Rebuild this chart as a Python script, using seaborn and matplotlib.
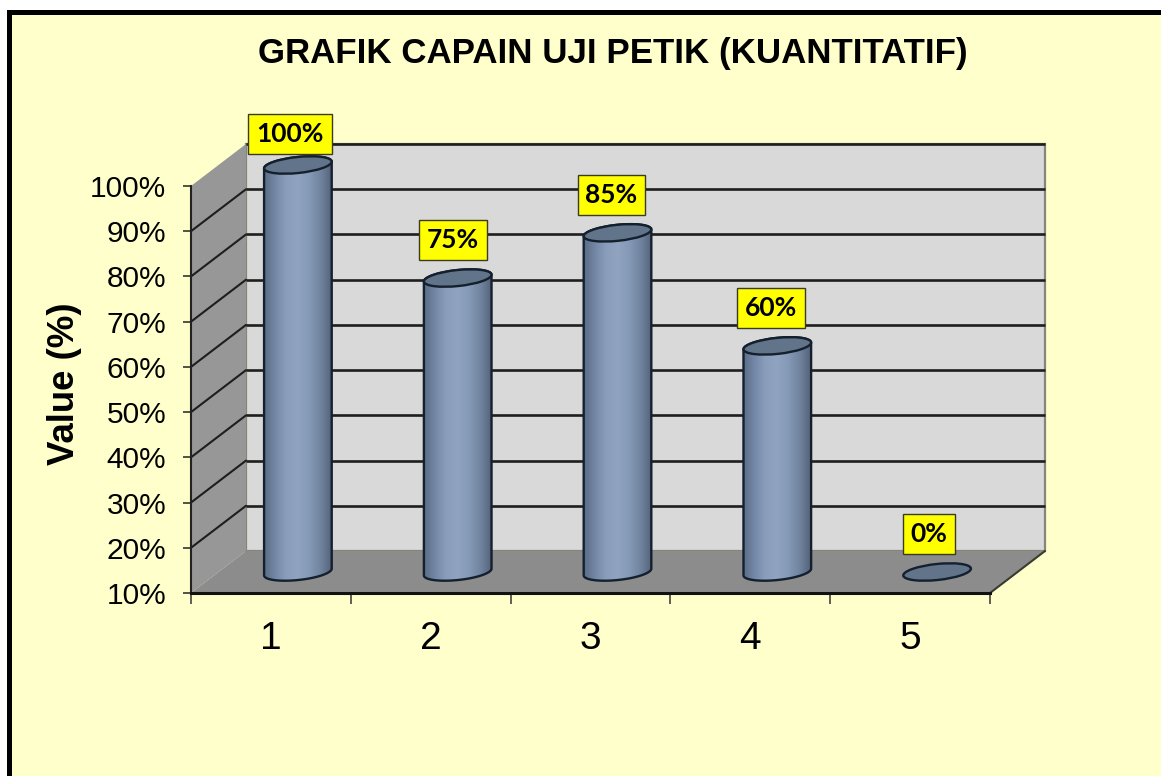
import numpy as np
import pandas as pd
import matplotlib
matplotlib.use("Agg")
import matplotlib.pyplot as plt
import seaborn as sns
from matplotlib.colors import LinearSegmentedColormap
from matplotlib.patches import Ellipse, Polygon, Rectangle
from matplotlib.transforms import IdentityTransform, Affine2D

categories = ["1", "2", "3", "4", "5"]
values = [100, 75, 85, 60, 0]
value_labels = ["100%", "75%", "85%", "60%", "0%"]
y_ticks = [10, 20, 30, 40, 50, 60, 70, 80, 90, 100]
y_tick_labels = ["10%", "20%", "30%", "40%", "50%", "60%", "70%", "80%", "90%", "100%"]
title = "GRAFIK CAPAIN UJI PETIK (KUANTITATIF)"
y_label = "Value (%)"

W, H = 1161, 776
BG = "#FFFFCC"
DX, DY = 55, 42          # depth of the 3D box, px
BAR_DX, BAR_DY = 27, 21  # bars stand mid-depth
ELL_W, ELL_H, ELL_ANG = 68, 16, 6
LABEL_DX = [-8, -5, -6, -6, -8]
LABEL_DY = [31, 38, 38, 38, 38]

sns.set_theme(style="white")
plt.rcParams["font.family"] = ["Liberation Sans", "DejaVu Sans"]
plt.rcParams["xtick.labelcolor"] = "black"
plt.rcParams["ytick.labelcolor"] = "black"

fig = plt.figure(figsize=(W / 100, H / 100), dpi=100, facecolor="white")
fig.patches.append(Rectangle((8.5, -10), W + 20, H + 10 - 11.5, transform=IdentityTransform(),
                             facecolor=BG, edgecolor="black", linewidth=5 * 0.72, figure=fig,
                             zorder=-5))

ax = fig.add_axes([191 / W, 1 - 593 / H, 799 / W, 407 / H])
ax.patch.set_visible(False)

df = pd.DataFrame({"cat": categories, "val": values})
sns.barplot(data=df, x="cat", y="val", ax=ax, color="#8296B2", width=68 / 159.8,
            saturation=1, errorbar=None, zorder=4)
ax.set_xlim(-0.5, 4.5)
ax.set_ylim(10, 100)
ax.set_autoscale_on(False)

px = IdentityTransform()
back = Affine2D().translate(DX, DY)
x0, y0 = ax.transData.transform((-0.5, 10))
x1, y1 = ax.transData.transform((4.5, 100))

# 3D box
ax.add_patch(Polygon([(x0 + DX, y0 + DY), (x1 + DX, y0 + DY), (x1 + DX, y1 + DY), (x0 + DX, y1 + DY)],
                     transform=px, facecolor="#D9D9D9", edgecolor="#85857A", linewidth=1.6,
                     clip_on=False, zorder=1))
ax.add_patch(Polygon([(x0, y0), (x0 + DX, y0 + DY), (x0 + DX, y1 + DY), (x0, y1)], transform=px,
                     facecolor="#979797", edgecolor="none", clip_on=False, zorder=1.2))
ax.add_patch(Polygon([(x0, y0), (x1, y0), (x1 + DX, y0 + DY), (x0 + DX, y0 + DY)], transform=px,
                     facecolor="#8C8C8C", edgecolor="none", clip_on=False, zorder=1.4))

# gridlines on both walls
ax.hlines(y_ticks[1:], -0.5, 4.5, transform=ax.transData + back, colors="#1E1E1E",
          linewidth=1.9, clip_on=False, zorder=2)
for t in y_ticks[1:-1]:
    gx, gy = ax.transData.transform((-0.5, t))
    ax.plot([gx, gx + DX], [gy, gy + DY], transform=px, color="#1E1E1E", linewidth=1.5,
            clip_on=False, zorder=2)
ax.plot([x1, x1 + DX], [y0, y0 + DY], transform=px, color="#3A3A32", linewidth=1.5,
        clip_on=False, zorder=2.5)

# cylinders
shade = LinearSegmentedColormap.from_list(
    "cyl", ["#56667E", "#7085A3", "#8A9EBC", "#90A4C0", "#8499B6", "#6E819C", "#4E5C72"])
grad = np.linspace(0, 1, 256).reshape(1, -1)
a, b = ELL_W / 2, ELL_H / 2
th = np.radians(ELL_ANG)


def ell_pts(cx, cy, t):
    return np.column_stack([cx + a * np.cos(t) * np.cos(th) - b * np.sin(t) * np.sin(th),
                            cy + a * np.cos(t) * np.sin(th) + b * np.sin(t) * np.cos(th)])


for i, (bar, v) in enumerate(zip(list(ax.patches)[:len(values)], values)):
    top = max(v, 10)
    xc = bar.get_x() + bar.get_width() / 2
    cx, cyb = ax.transData.transform((xc, 10))
    _, cyt = ax.transData.transform((xc, top))
    cx += BAR_DX
    cyb += BAR_DY
    cyt += BAR_DY
    bar.set_y(10)
    bar.set_height(top - 10)
    bar.set_transform(ax.transData + Affine2D().translate(BAR_DX, BAR_DY))
    if v > 10:
        lower = ell_pts(cx, cyb, np.linspace(np.pi, 2 * np.pi, 60))
        upper = ell_pts(cx, cyt, np.linspace(0, np.pi, 60))
        outline = np.vstack([lower, upper])
        body = Polygon(outline, transform=px, facecolor="none", edgecolor="#14202E",
                       linewidth=1.7, clip_on=False, zorder=5)
        ax.add_patch(body)
        bar.set_clip_on(True)
        bar.set_clip_box(fig.bbox)
        bar.set_clip_path(body)
        im = ax.imshow(grad, cmap=shade, aspect="auto", origin="lower", transform=px,
                       extent=(cx - a - 2, cx + a + 2, cyb - b - 3, cyt + b + 3), zorder=4.5)
        im.set_clip_on(True)
        im.set_clip_box(fig.bbox)
        im.set_clip_path(body)
    else:
        bar.set_visible(False)
    ax.add_patch(Ellipse((cx, cyt), ELL_W, ELL_H, angle=ELL_ANG, transform=px, facecolor="#62748A",
                         edgecolor="#14202E", linewidth=1.7, clip_on=False, zorder=6))
    ax.text(cx + LABEL_DX[i], cyt + LABEL_DY[i], value_labels[i], transform=px, ha="center", va="center",
            family=["Lato", "DejaVu Sans"], fontweight="bold", fontsize=19, color="black",
            zorder=7, clip_on=False,
            bbox=dict(boxstyle="square,pad=0.3", facecolor="#FFFF00", edgecolor="#3A3A20", linewidth=1))

# axes
for s in ["top", "right"]:
    ax.spines[s].set_visible(False)
ax.spines["left"].set_color("#222222")
ax.spines["left"].set_linewidth(1.5)
ax.spines["bottom"].set_color("#111111")
ax.spines["bottom"].set_linewidth(2.2)
ax.spines["left"].set_zorder(3)
ax.spines["bottom"].set_zorder(3)
ax.set_yticks(y_ticks, y_tick_labels)
ax.set_xticks(range(len(categories)), categories)
ax.set_xticks(np.arange(-0.5, 5), minor=True)
ax.tick_params(axis="y", length=5.8, width=1.1, color="#222222", labelsize=21.5, pad=12, left=True,
               labelcolor="black")
ax.tick_params(axis="x", which="major", length=0, labelsize=28, pad=20, labelcolor="black")
ax.tick_params(axis="x", which="minor", length=8, width=1.1, color="#333333", bottom=True)
ax.set_xlabel("")
ax.set_ylabel("")
fig.text(64 / W, 1 - 384 / H, y_label, rotation=90, ha="center", va="center",
         fontsize=26.4, fontweight="bold", color="black")
fig.text(612.5 / W, 1 - 53 / H, title, ha="center", va="center",
         fontsize=25.1, fontweight="bold", color="black")

fig.savefig("out.png", dpi=100)
